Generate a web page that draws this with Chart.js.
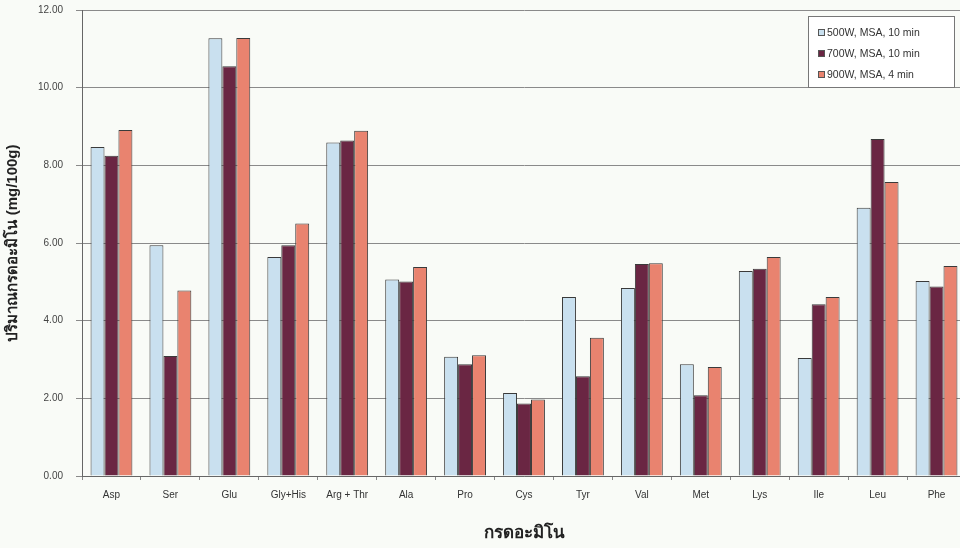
<!DOCTYPE html>
<html>
<head>
<meta charset="utf-8">
<script src="https://cdn.jsdelivr.net/npm/chart.js@4"></script>
<style>
  html, body { margin: 0; padding: 0; background: #f9fbf7; overflow: hidden; }
  #wrap { width: 972px; height: 548px; }
</style>
</head>
<body>
<div id="wrap"><canvas id="aminoChart" width="972" height="548"></canvas></div>
<script>
// amino acid content (mg/100g) per extraction condition
const aminoAcids = ["Asp", "Ser", "Glu", "Gly+His", "Arg + Thr", "Ala", "Pro", "Cys", "Tyr", "Val", "Met", "Lys", "Ile", "Leu", "Phe"];
const seriesNames = ["500W, MSA, 10 min", "700W, MSA, 10 min", "900W, MSA, 4 min"];
const w500 = [8.47, 5.94, 11.27, 5.64, 8.59, 5.06, 3.07, 2.14, 4.61, 4.84, 2.88, 5.28, 3.04, 6.91, 5.02];
const w700 = [8.25, 3.09, 10.55, 5.94, 8.64, 5.01, 2.88, 1.87, 2.57, 5.46, 2.08, 5.34, 4.42, 8.68, 4.88];
const w900 = [8.91, 4.78, 11.28, 6.50, 8.89, 5.38, 3.11, 1.97, 3.56, 5.48, 2.81, 5.64, 4.61, 7.57, 5.41];
const yTicks = [0, 2, 4, 6, 8, 10, 12];

const fills = ["#c9e0ef", "#6a2643", "#e9836f"];
const font = "'Liberation Sans', Arial, sans-serif";

// legend box drawn inside the plot, top right
const boxLegend = {
  id: "boxLegend",
  afterDraw(chart) {
    const ctx = chart.ctx;
    const x = 808, y = 16, w = 146, h = 71;
    ctx.save();
    ctx.fillStyle = "#ffffff";
    ctx.fillRect(x, y, w, h);
    ctx.strokeStyle = "#777";
    ctx.lineWidth = 1;
    ctx.strokeRect(x + 0.5, y + 0.5, w, h);
    ctx.font = "10.5px " + font;
    ctx.textBaseline = "middle";
    chart.data.datasets.forEach((ds, i) => {
      const cy = y + 16 + i * 21;
      ctx.fillStyle = ds.backgroundColor;
      ctx.fillRect(x + 10, cy - 3, 7, 7);
      ctx.strokeStyle = "#555";
      ctx.strokeRect(x + 10.5, cy - 2.5, 6, 6);
      ctx.fillStyle = "#333";
      ctx.fillText(ds.label, x + 19, cy + 1);
    });
    ctx.restore();
  }
};

const datasets = [w500, w700, w900].map((vals, i) => ({
  label: seriesNames[i],
  data: vals,
  backgroundColor: fills[i],
  borderColor: "#3a3a3a",
  borderWidth: 1,
  barPercentage: 1,
  categoryPercentage: 0.71
}));

new Chart(document.getElementById("aminoChart"), {
  type: "bar",
  data: { labels: aminoAcids, datasets: datasets },
  plugins: [boxLegend],
  options: {
    responsive: false,
    animation: false,
    layout: { padding: { top: 10, right: 6, left: 0, bottom: 0 } },
    plugins: { legend: { display: false }, tooltip: { enabled: false } },
    scales: {
      x: {
        grid: { display: true, drawOnChartArea: false, offset: true, tickLength: 4, color: "#888" },
        border: { color: "#666" },
        ticks: { color: "#333", font: { family: font, size: 10 }, padding: 9, maxRotation: 0 },
        title: { display: true, text: "กรดอะมิโน", color: "#222", font: { family: font, size: 17, weight: "bold" }, padding: { top: 10 } },
        afterFit(scale) { scale.height = 72; }
      },
      y: {
        min: 0,
        max: 12,
        afterBuildTicks(scale) { scale.ticks = yTicks.map(v => ({ value: v })); },
        grid: { color: "#8a8a8a", tickLength: 6 },
        border: { color: "#666" },
        ticks: {
          color: "#444",
          font: { family: font, size: 10 },
          padding: 13,
          callback: v => v.toFixed(2)
        },
        title: { display: true, text: "ปริมาณกรดอะมิโน (mg/100g)", color: "#222", font: { family: font, size: 15, weight: "bold" }, padding: { bottom: 0 } },
        afterFit(scale) {
          scale.width = 82;
          scale.paddingTop = 0;
          scale.paddingBottom = 0;
        }
      }
    }
  }
});
</script>
</body>
</html>
